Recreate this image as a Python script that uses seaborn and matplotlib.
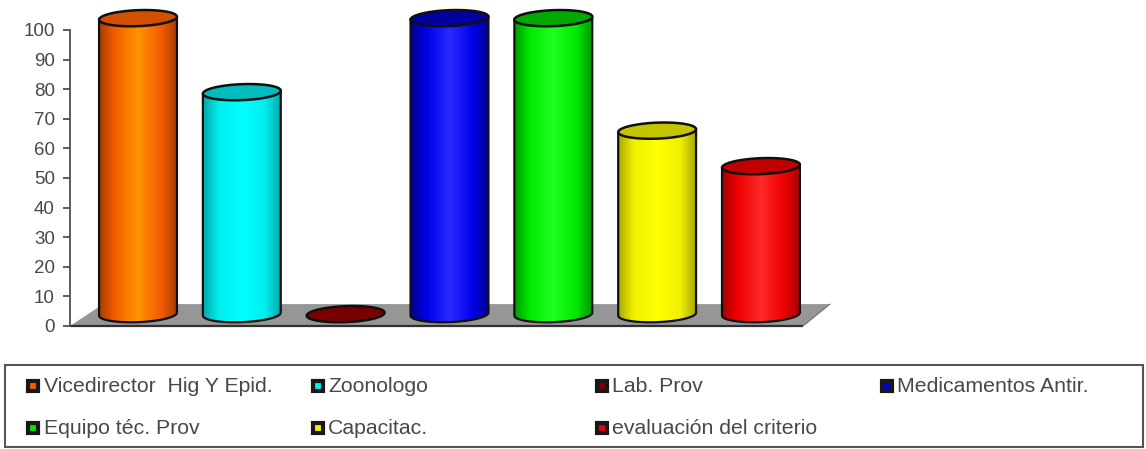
"""
3D-look cylinder chart with a legend box
"""
import numpy as np
import pandas as pd
import matplotlib
matplotlib.use('Agg')
import matplotlib.pyplot as plt
import seaborn as sns
from matplotlib.colors import LinearSegmentedColormap
from matplotlib.patches import PathPatch, Polygon, Rectangle
from matplotlib.path import Path

categories = ['Vicedirector  Hig Y Epid.', 'Zoonologo', 'Lab. Prov', 'Medicamentos Antir.',
              'Equipo téc. Prov', 'Capacitac.', 'evaluación del criterio']
values = [100, 75, 0, 100, 100, 62, 50]
yticks = list(range(0, 101, 10))

# edge, body, highlight, top cap
shades = [
    ('#a83c00', '#f25c00', '#ff9400', '#d05000'),
    ('#00a8a8', '#00eeee', '#00ffff', '#00bcbc'),
    ('#500000', '#800000', '#900000', '#7a0000'),
    ('#000090', '#0000e8', '#2a2aff', '#0000a0'),
    ('#009800', '#00ea00', '#20ff20', '#00a800'),
    ('#a8a800', '#f0f000', '#ffff00', '#c4c400'),
    ('#a80000', '#ee0000', '#ff2a2a', '#c00000'),
]

W, H = 1146, 449
DEPTH = 4        # bars stand on the floor, a bit behind the front edge
FLOOR_BACK = 7.4
CAP = 5.4        # height of the ellipse
TILT = 1.0       # rise of the ellipse from left end to right end
BAR_W = 0.75
TEXT = '#484848'

sns.set_theme(style='white')
plt.rcParams['font.family'] = ['Liberation Sans', 'DejaVu Sans']


def ellipse_arc(xc, yc, t):
    """Points on a slightly tilted ellipse, like the perspective of the original."""
    dx = BAR_W / 2 * np.cos(t)
    dy = CAP / 2 * np.sin(t) + TILT * dx / BAR_W
    return np.column_stack([xc + dx, yc + dy])


fig = plt.figure(figsize=(W / 100, H / 100), dpi=100, facecolor='white')
ax = fig.add_axes([70 / W, (H - 326) / H, 760 / W, 296 / H])

df = pd.DataFrame({'category': categories, 'value': values})
sns.barplot(data=df, x='category', y='value', ax=ax, width=BAR_W, bottom=DEPTH,
            color='white', linewidth=0, errorbar=None, zorder=2)

xlim = (-0.655, 6.665)

# grey floor
slant = 0.32
ax.add_patch(Polygon([(xlim[0], 0), (xlim[0] + slant, FLOOR_BACK), (xlim[1], FLOOR_BACK),
                      (xlim[1] - 0.26, 0)], closed=True, facecolor='#969696',
                     edgecolor='none', zorder=1, clip_on=False))
ax.plot([xlim[0], xlim[1] - 0.26], [0, 0], color='#303030', lw=1.6, zorder=1.5,
        clip_on=False, solid_capstyle='butt')
ax.plot([xlim[1] - 0.26, xlim[1]], [0, FLOOR_BACK], color='#707070', lw=0.8, zorder=1.5, clip_on=False)

for bar, (edge, body, light, cap), val in zip(ax.containers[0], shades, values):
    x0 = bar.get_x()
    x1 = x0 + bar.get_width()
    xc = (x0 + x1) / 2
    bar.set_visible(False)
    top = DEPTH + val

    if val > 0:
        arc = ellipse_arc(xc, DEPTH, np.linspace(np.pi, 2 * np.pi, 40))
        verts = np.vstack([[(x0, top - TILT / 2)], arc, [(x1, top + TILT / 2)], [(x0, top - TILT / 2)]])
        body_path = Path(verts, closed=True)
        ax.add_patch(PathPatch(body_path, facecolor='none', edgecolor='#101010', lw=1.6,
                               zorder=4, clip_on=False))

        cmap = LinearSegmentedColormap.from_list(
            'cyl', [(0, edge), (0.2, body), (0.5, light), (0.8, body), (1, edge)])
        im = ax.imshow(np.linspace(0, 1, 200).reshape(1, -1), cmap=cmap, aspect='auto',
                       extent=(x0, x1, DEPTH - CAP, top + TILT), zorder=3)
        im.set_clip_box(fig.bbox)
        im.set_clip_path(PathPatch(body_path, transform=ax.transData))

    ring = ellipse_arc(xc, top, np.linspace(0, 2 * np.pi, 80))
    ax.add_patch(Polygon(ring, closed=True, facecolor=cap, edgecolor='#101010',
                         lw=1.8, zorder=5, clip_on=False))

ax.set_xlim(*xlim)
ax.set_ylim(0, 100)
ax.set_yticks(yticks)
ax.set_xticks([])
ax.set_xlabel('')
ax.set_ylabel('')
ax.patch.set_alpha(0)
ax.tick_params(axis='y', left=True, length=5, width=1.3, color='#505050', pad=6,
               labelsize=13.5, labelcolor=TEXT)
for name in ['top', 'right', 'bottom']:
    ax.spines[name].set_visible(False)
ax.spines['left'].set_color('#505050')
ax.spines['left'].set_linewidth(1.3)

# legend box, laid out in four equal columns like the original
leg = fig.add_axes([0, 0, 1, 1], xlim=(0, W), ylim=(H, 0))
leg.axis('off')
leg.patch.set_alpha(0)
leg.add_patch(Rectangle((4.5, 364.5), 1138, 82, facecolor='white', edgecolor='#555555', lw=1.5))

for i, (name, shade) in enumerate(zip(categories, shades)):
    col = i % 4
    row = i // 4
    mx = 33 + col * 284.5
    my = 386 + row * 42
    leg.plot(mx, my, marker='s', ms=6.5, mfc=shade[1], mec='#181818', mew=3, ls='none')
    leg.text(mx + 10.5, my, name, fontsize=15.3, color=TEXT, va='center', ha='left')

fig.savefig('out.png', dpi=100)
